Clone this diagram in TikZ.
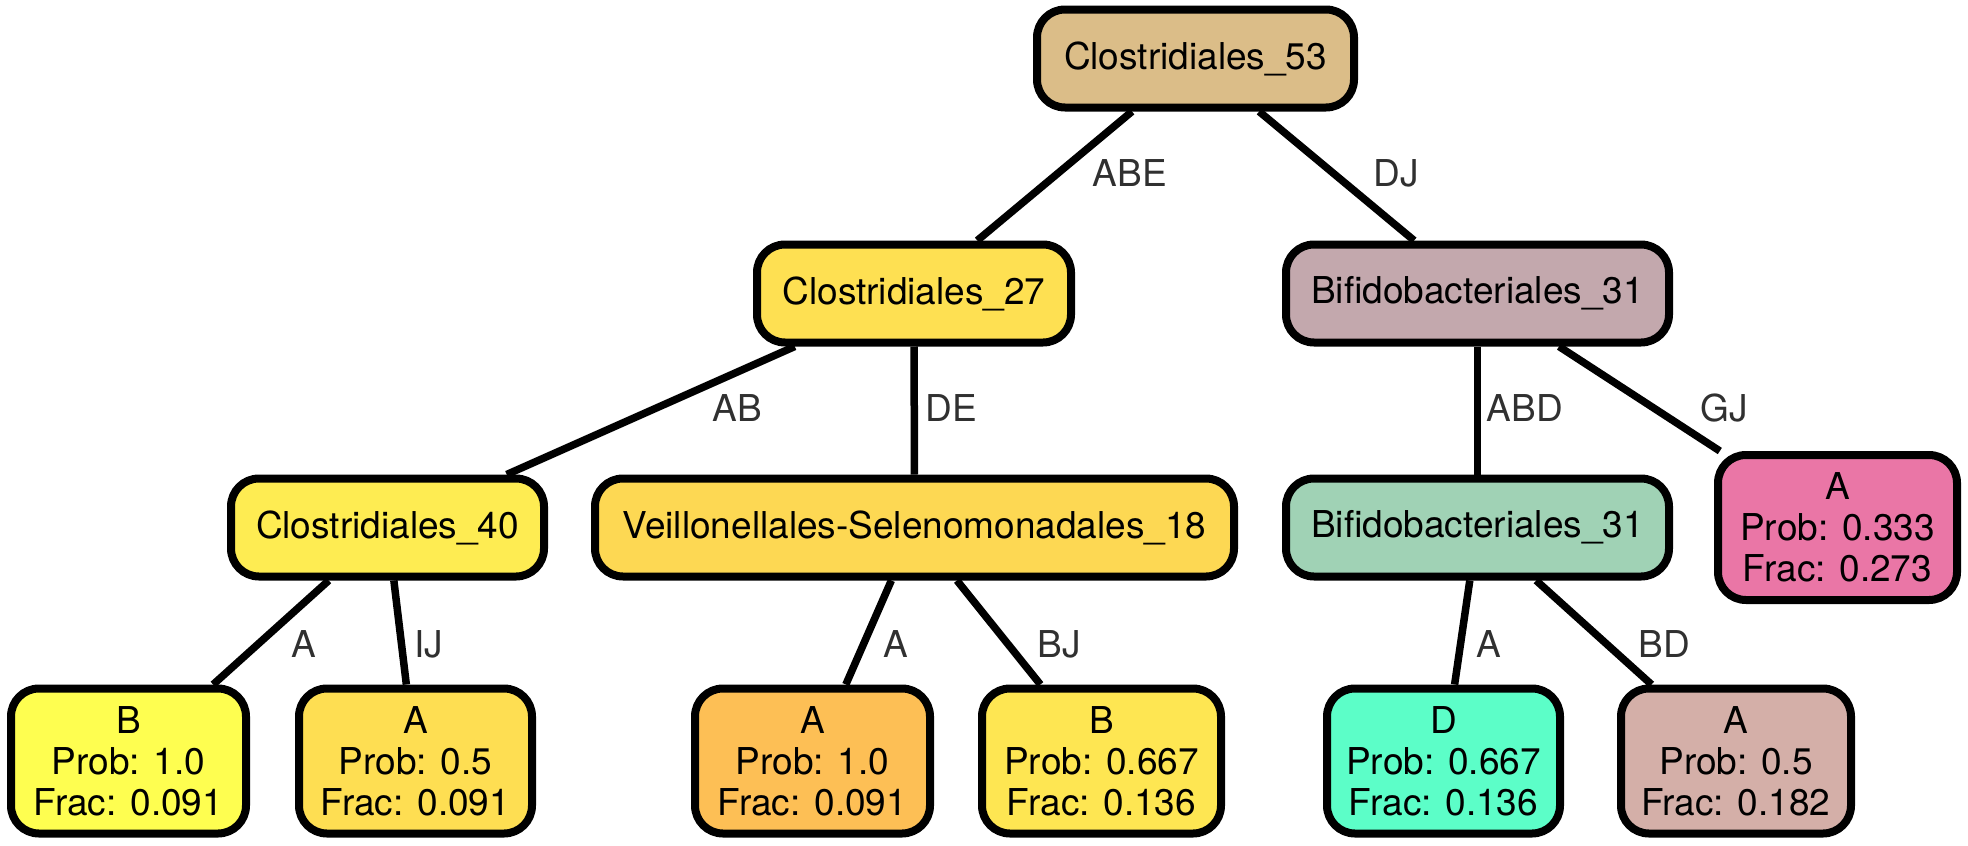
\documentclass[tikz,border=0pt]{standalone}
\usepackage{fontspec}
\setmainfont{TeX Gyre Heros}
\definecolor{cRoot}{HTML}{DBBD88}
\definecolor{cCtwo}{HTML}{FEE052}
\definecolor{cBifA}{HTML}{C3A8AD}
\definecolor{cCfour}{HTML}{FEEC52}
\definecolor{cVeil}{HTML}{FDD853}
\definecolor{cBifB}{HTML}{A0D2B5}
\definecolor{cPink}{HTML}{EA76A6}
\definecolor{cLB}{HTML}{FEFE50}
\definecolor{cLA}{HTML}{FEDE52}
\definecolor{cLAone}{HTML}{FDBF55}
\definecolor{cLBsix}{HTML}{FEE652}
\definecolor{cLD}{HTML}{5CFEC8}
\definecolor{cLAfive}{HTML}{D4AFA8}
\definecolor{cLbl}{HTML}{303030}
\begin{document}
\begin{tikzpicture}[x=1pt,y=-1pt,
  box/.style={draw=black, line width=8pt, rounded corners=28pt, inner sep=0pt,
    font=\fontsize{37}{41}\selectfont, align=center, minimum height=98pt},
  leaf/.style={box, minimum height=145pt},
  conn/.style={line width=7.5pt, draw=black},
  lbl/.style={font=\fontsize{37}{41}\selectfont, text=cLbl, inner sep=0pt}]
\useasboundingbox (0,0) rectangle (1968,846);
% nodes
\node[box, fill=cRoot, minimum width=317pt] (root) at (1195.5,58.5) {Clostridiales\_53};
\node[box, fill=cCtwo, minimum width=314pt] (c27) at (914,293.5) {Clostridiales\_27};
\node[box, fill=cBifA, minimum width=383pt] (bif1) at (1477.5,293.5) {Bifidobacteriales\_31};
\node[box, fill=cCfour, minimum width=313pt] (c40) at (387.5,527.5) {Clostridiales\_40};
\node[box, fill=cVeil, minimum width=639pt] (veil) at (914.5,527.5) {Veillonellales-Selenomonadales\_18};
\node[box, fill=cBifB, minimum width=383pt] (bif2) at (1477.5,527.5) {Bifidobacteriales\_31};
\node[leaf, fill=cPink, minimum width=239pt] (pink) at (1837.5,527.5) {A\\Prob: 0.333\\Frac: 0.273};
\node[leaf, fill=cLB, minimum width=235pt] (lb) at (128.5,761) {B\\Prob: 1.0\\Frac: 0.091};
\node[leaf, fill=cLA, minimum width=233pt] (la) at (415.5,761) {A\\Prob: 0.5\\Frac: 0.091};
\node[leaf, fill=cLAone, minimum width=235pt] (laone) at (812.5,761) {A\\Prob: 1.0\\Frac: 0.091};
\node[leaf, fill=cLBsix, minimum width=239pt] (lbsix) at (1101.5,761) {B\\Prob: 0.667\\Frac: 0.136};
\node[leaf, fill=cLD, minimum width=233pt] (ld) at (1443.5,761) {D\\Prob: 0.667\\Frac: 0.136};
\node[leaf, fill=cLAfive, minimum width=230pt] (lafive) at (1736,761) {A\\Prob: 0.5\\Frac: 0.182};
% connectors
\draw[conn] (root) -- (c27);
\draw[conn] (root) -- (bif1);
\draw[conn] (c27) -- (c40);
\draw[conn] (c27) -- (veil);
\draw[conn] (bif1) -- (bif2);
\draw[conn] (bif1) -- (pink);
\draw[conn] (c40) -- (lb);
\draw[conn] (c40) -- (la);
\draw[conn] (veil) -- (laone);
\draw[conn] (veil) -- (lbsix);
\draw[conn] (bif2) -- (ld);
\draw[conn] (bif2) -- (lafive);
% labels
\node[lbl] (tABE) at (1130,173) {ABE};
\node[lbl] (tDJ) at (1396,173) {DJ};
\node[lbl] (tAB) at (737,408) {AB};
\node[lbl] (tDE) at (951,408) {DE};
\node[lbl] (tABD) at (1525,408) {ABD};
\node[lbl] (tGJ) at (1724,408) {GJ};
\node[lbl] (tA1) at (304,644) {A};
\node[lbl] (tIJ) at (429,644) {IJ};
\node[lbl] (tA2) at (896,644) {A};
\node[lbl] (tBJ) at (1059,644) {BJ};
\node[lbl] (tA3) at (1489,644) {A};
\node[lbl] (tBD) at (1664,644) {BD};
\end{tikzpicture}
\end{document}
